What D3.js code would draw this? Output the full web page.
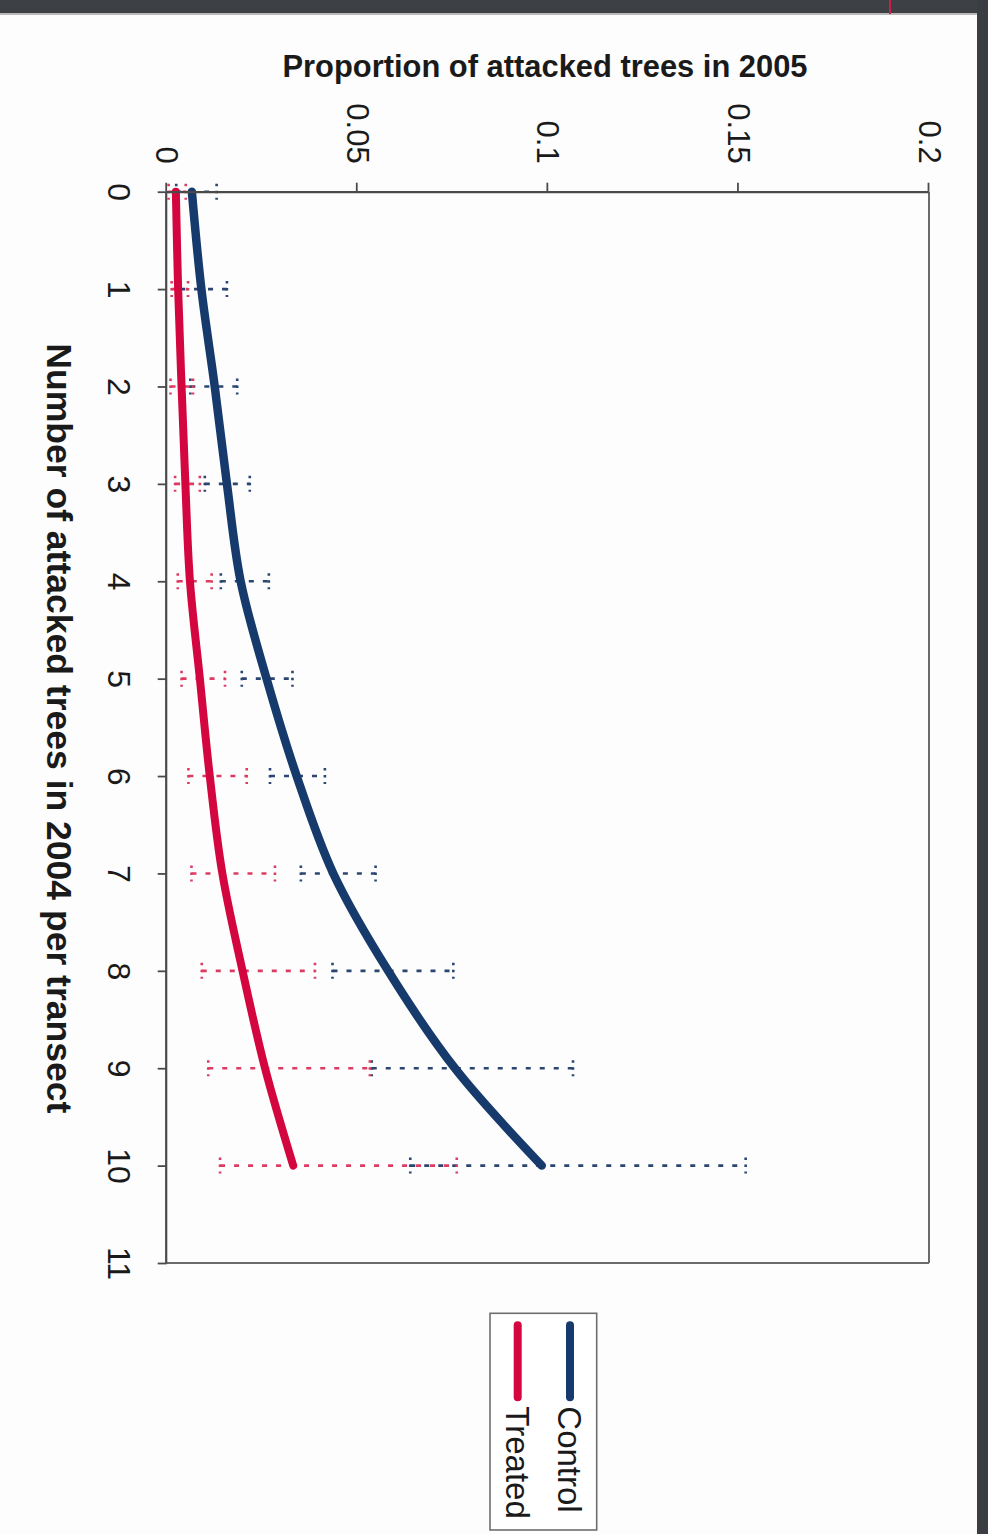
<!DOCTYPE html>
<html>
<head>
<meta charset="utf-8">
<script src="https://cdn.jsdelivr.net/npm/d3@7"></script>
<style>
  html, body { margin: 0; padding: 0; background: #fdfdfd; }
  svg { display: block; font-family: Arial, "Liberation Sans", sans-serif; }
</style>
</head>
<body>
<svg id="chart" width="988" height="1534"></svg>
<script>
// number of attacked trees in 2004 per transect
const categories = [0, 1, 2, 3, 4, 5, 6, 7, 8, 9, 10];
const catTicks = [0, 1, 2, 3, 4, 5, 6, 7, 8, 9, 10, 11];
const valueTicks = [0, 0.05, 0.1, 0.15, 0.2];

// proportion of attacked trees in 2005
const controlMean = [0.0066, 0.0091, 0.0126, 0.0158, 0.0194, 0.0262, 0.0341, 0.0437, 0.0581, 0.0756, 0.0984];
const controlLow  = [0.0025, 0.0035, 0.0062, 0.0100, 0.0142, 0.0197, 0.0271, 0.0352, 0.0435, 0.0538, 0.0639];
const controlHigh = [0.0131, 0.0158, 0.0185, 0.0218, 0.0268, 0.0330, 0.0415, 0.0548, 0.0752, 0.1066, 0.1519];
const treatedMean = [0.0024, 0.0030, 0.0039, 0.0049, 0.0061, 0.0087, 0.0113, 0.0146, 0.0199, 0.0258, 0.0332];
const treatedLow  = [0.0005, 0.0013, 0.0010, 0.0022, 0.0029, 0.0039, 0.0057, 0.0065, 0.0092, 0.0109, 0.0140];
const treatedHigh = [0.0050, 0.0056, 0.0069, 0.0087, 0.0118, 0.0153, 0.0210, 0.0284, 0.0389, 0.0533, 0.0761];

const seriesNames = ['Control', 'Treated'];
const colors = { Control: '#163a6b', Treated: '#d3063f' };
const barColors = { Control: '#2b4670', Treated: '#dc3c62' };

const svg = d3.select('#chart');

// scanner edges
svg.append('rect').attr('x', 0).attr('y', 0).attr('width', 988).attr('height', 13).attr('fill', '#3d4145');
svg.append('rect').attr('x', 977).attr('y', 0).attr('width', 11).attr('height', 1534).attr('fill', '#3a3e42');
svg.append('line').attr('x1', 0).attr('x2', 977).attr('y1', 14).attr('y2', 14).attr('stroke', '#b9b9b9').attr('stroke-width', 2);
svg.append('line').attr('x1', 890).attr('x2', 890).attr('y1', 0).attr('y2', 14).attr('stroke', '#c8204a').attr('stroke-width', 2);

// the page is turned a quarter turn clockwise: build the chart upright and rotate it
const originX = 929, originY = 191.7;
const width = 1263 - originY;   // category axis length (page vertical)
const height = originX - 166.7; // value axis length (page horizontal)

const g = svg.append('g').attr('transform', `translate(${originX},${originY}) rotate(90)`);

const x = d3.scaleLinear().domain([0, 11]).range([0, width]);
const y = d3.scaleLinear().domain([0, 0.2]).range([height, 0]);

// plot area border (right and bottom on the page)
g.append('line').attr('x1', 0).attr('x2', width).attr('y1', 0).attr('y2', 0)
  .attr('stroke', '#6a6a6a').attr('stroke-width', 2);
g.append('line').attr('x1', width).attr('x2', width).attr('y1', 0).attr('y2', height)
  .attr('stroke', '#6a6a6a').attr('stroke-width', 2);

// error bars
function errorBars(name, lows, highs) {
  const eb = g.append('g').attr('class', 'err-' + name)
    .attr('stroke', barColors[name]).attr('stroke-width', 2.6).attr('fill', 'none');
  eb.selectAll('line.bar')
    .data(categories)
    .join('line')
    .attr('class', 'bar')
    .attr('x1', (d) => x(d)).attr('x2', (d) => x(d))
    .attr('y1', (d, i) => y(lows[i])).attr('y2', (d, i) => y(highs[i]))
    .attr('stroke-dasharray', '5,9');
  const caps = categories.flatMap((d, i) => [[d, lows[i]], [d, highs[i]]]);
  eb.selectAll('line.cap')
    .data(caps)
    .join('line')
    .attr('class', 'cap')
    .attr('x1', (d) => x(d[0]) - 8).attr('x2', (d) => x(d[0]) + 8)
    .attr('y1', (d) => y(d[1])).attr('y2', (d) => y(d[1]))
    .attr('stroke-dasharray', '2.5,4.5');
}
errorBars('Control', controlLow, controlHigh);
errorBars('Treated', treatedLow, treatedHigh);

// smoothed lines
const line = d3.line()
  .x((d, i) => x(categories[i]))
  .y((d) => y(d))
  .curve(d3.curveCatmullRom.alpha(0.5));

g.append('path').datum(controlMean)
  .attr('d', line).attr('fill', 'none')
  .attr('stroke', colors.Control).attr('stroke-width', 8.5).attr('stroke-linecap', 'round');
g.append('path').datum(treatedMean)
  .attr('d', line).attr('fill', 'none')
  .attr('stroke', colors.Treated).attr('stroke-width', 8).attr('stroke-linecap', 'round');

// axes
const xAxis = g.append('g')
  .attr('transform', `translate(0,${height})`)
  .call(d3.axisBottom(x).tickValues(catTicks).tickSize(9).tickSizeOuter(0).tickPadding(27).tickFormat(d3.format('d')));
const yAxis = g.append('g')
  .call(d3.axisLeft(y).tickValues(valueTicks).tickSize(9).tickSizeOuter(0).tickPadding(19).tickFormat((d) => (d === 0 ? '0' : String(d))));

[xAxis, yAxis].forEach((a) => {
  a.select('.domain').attr('stroke', '#4a4a4a').attr('stroke-width', 2.2);
  a.selectAll('.tick line').attr('stroke', '#4a4a4a').attr('stroke-width', 1.8);
  a.selectAll('text').attr('fill', '#1a1a1a').style('font-family', 'Arial, "Liberation Sans", sans-serif');
});
xAxis.selectAll('text').style('font-size', '32px');
yAxis.selectAll('text').style('font-size', '31px');

// category axis title (turned with the chart)
g.append('text')
  .attr('x', width / 2 + 1)
  .attr('y', height + 120)
  .attr('text-anchor', 'middle')
  .attr('fill', '#1a1a1a')
  .style('font-size', '35px')
  .style('font-weight', 'bold')
  .attr('textLength', 770)
  .attr('lengthAdjust', 'spacingAndGlyphs')
  .text('Number of attacked trees in 2004 per transect');

// value axis title sits level on the page
svg.append('text')
  .attr('x', 545)
  .attr('y', 77)
  .attr('text-anchor', 'middle')
  .attr('fill', '#1a1a1a')
  .style('font-size', '32px')
  .style('font-weight', 'bold')
  .attr('textLength', 525)
  .attr('lengthAdjust', 'spacingAndGlyphs')
  .text('Proportion of attacked trees in 2005');

// legend
const legend = g.append('g').attr('transform', `translate(${1313.3 - originY},${originX - 596.7})`);
legend.append('rect')
  .attr('width', 216.7).attr('height', 106.7)
  .attr('fill', '#fff').attr('stroke', '#6e6e6e').attr('stroke-width', 1.6);
const legendRows = legend.selectAll('g.row')
  .data(seriesNames)
  .join('g')
  .attr('class', 'row')
  .attr('transform', (d, i) => `translate(0,${26.7 + i * 52.3})`);
legendRows.append('line')
  .attr('x1', 12).attr('x2', 84)
  .attr('stroke', (d) => colors[d]).attr('stroke-width', 8).attr('stroke-linecap', 'round');
legendRows.append('text')
  .attr('x', 93).attr('y', 12)
  .attr('fill', '#1a1a1a')
  .style('font-size', '33px')
  .text((d) => d);
</script>
</body>
</html>
